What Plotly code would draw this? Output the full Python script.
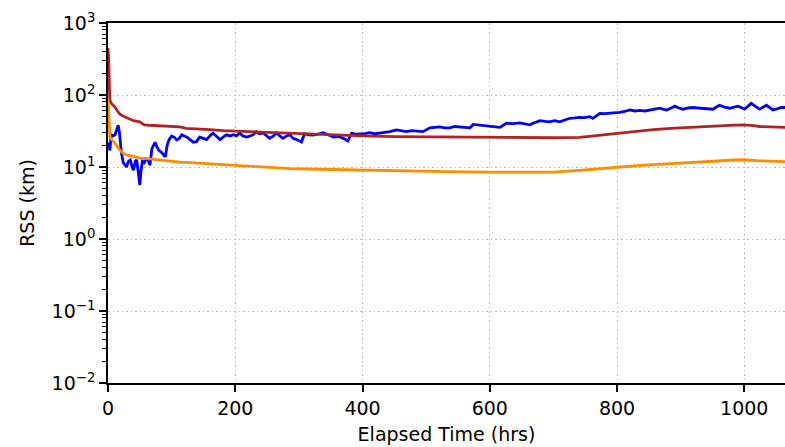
import plotly.graph_objects as go

blue_x = [1, 3, 5, 8, 11, 14, 16, 18, 21, 24, 27, 29, 32, 35, 38, 40, 43, 45, 48, 50, 52, 54, 57, 60, 63, 66, 69, 72, 74, 77, 80, 84, 87, 90, 93, 96, 100, 104, 108, 112, 116, 120, 124, 129, 134, 139, 144, 150, 155, 160, 165, 170, 176, 181, 186, 192, 197, 202, 207, 212, 218, 223, 228, 233, 238, 244, 249, 254, 260, 265, 270, 275, 281, 286, 291, 297, 304, 309, 315, 322, 330, 338, 346, 354, 362, 370, 377, 383, 390, 396, 404, 411, 419, 427, 435, 443, 453, 461, 469, 477, 485, 495, 506, 514, 521, 529, 537, 545, 553, 561, 569, 574, 585, 595, 605, 616, 626, 637, 647, 655, 663, 671, 679, 687, 694, 702, 710, 718, 726, 734, 741, 749, 757, 762, 768, 773, 781, 789, 797, 804, 812, 820, 828, 836, 844, 852, 860, 867, 873, 878, 885, 891, 897, 904, 912, 919, 927, 935, 943, 951, 956, 961, 969, 977, 984, 990, 995, 1000, 1006, 1011, 1017, 1024, 1030, 1035, 1040, 1045, 1051, 1058, 1065]
blue_y = [22, 17, 28, 27, 28, 33, 38, 30, 16, 11.5, 10.5, 10, 12, 12.5, 10, 9, 12, 12.5, 8, 5.6, 9, 12, 11.5, 13, 12.5, 10.6, 18, 20, 22, 19, 17, 16, 15, 13.8, 20, 24, 27, 26, 23.7, 25, 28, 27, 26, 24, 22, 22.5, 26, 25, 24, 27, 29.5, 27, 24, 26, 28, 27, 28, 27, 29.7, 27, 26, 27, 28, 31, 29, 29.7, 27, 25, 27, 29.7, 27, 25, 27, 28, 25, 24, 22.3, 29, 28, 27.8, 28.5, 30, 28, 26, 26.5, 25, 23, 29.5, 28.5, 28.7, 29, 30, 29, 29.6, 30, 31, 32.8, 31.5, 31, 32, 31.6, 31, 35, 35.5, 36, 35, 35, 36.5, 36, 35.5, 35, 39, 38, 37.5, 37, 35.5, 40.5, 40, 41, 40, 38.5, 41.5, 44, 43, 42.5, 44, 42.5, 45, 47.5, 48, 49, 48.5, 50, 47.5, 52, 55.5, 55, 55.5, 56, 57.5, 59, 62, 60, 61, 60, 62, 63, 65.5, 63, 62, 66, 70, 66, 63.5, 66, 67, 66, 65.5, 64, 63.5, 68, 72, 68, 65.5, 68, 70, 67, 63.5, 70, 76.5, 70, 63.5, 68, 72, 67, 62, 64, 67, 67]

brown_x = [0, 1, 2, 3, 5, 8, 11, 15, 18, 22, 26, 29, 35, 40, 50, 57, 65, 82, 100, 113, 123, 129, 145, 160, 181, 200, 234, 270, 286, 320, 350, 400, 450, 532, 600, 663, 700, 741, 770, 800, 830, 857, 885, 909, 935, 961, 985, 1000, 1015, 1024, 1040, 1065]
brown_y = [450, 330, 150, 85, 77, 72, 68, 60, 55, 52, 50, 48, 46, 44, 42.5, 38.5, 38, 37, 36.5, 36, 34.5, 34.3, 34, 33, 32, 31.5, 30.5, 29.5, 29, 28.5, 28, 27, 26.5, 26, 25.8, 25.5, 25.5, 25.8, 27.5, 29.5, 31.5, 33, 34.3, 35.4, 36.4, 37.3, 38.2, 38.5, 37.5, 36.5, 36, 35.4]

orange_x = [0, 1, 2, 3, 6, 11, 15, 19, 24, 29, 40, 50, 65, 82, 100, 113, 129, 145, 181, 234, 270, 286, 330, 400, 460, 532, 600, 663, 700, 741, 770, 800, 830, 857, 885, 909, 935, 961, 985, 1000, 1024, 1065]
orange_y = [88, 60, 30, 26, 24, 21.5, 19, 17, 15.5, 14.7, 14, 13.3, 13, 12.5, 12, 11.7, 11.5, 11.3, 10.9, 10.2, 9.7, 9.5, 9.3, 9, 8.8, 8.6, 8.5, 8.5, 8.5, 9.0, 9.5, 10, 10.4, 10.8, 11.2, 11.6, 11.9, 12.2, 12.5, 12.6, 12.2, 11.9]

x_ticks = [0, 200, 400, 600, 800, 1000]
y_ticks = [1e-2, 1e-1, 1, 10, 100, 1000]
y_ticktext = ["10<sup>−2</sup>", "10<sup>−1</sup>", "10<sup>0</sup>", "10<sup>1</sup>", "10<sup>2</sup>", "10<sup>3</sup>"]
y_minor = [m * 10 ** e for e in range(-2, 3) for m in range(2, 10)]

FONT = "DejaVu Sans"
GRID = dict(showgrid=True, gridcolor="#b8b8b8", griddash="1.5px,3px", gridwidth=1.3)

fig = go.Figure()
fig.add_trace(go.Scatter(x=blue_x, y=blue_y, mode="lines", line=dict(color="#0000ff", width=2.8)))
fig.add_trace(go.Scatter(x=brown_x, y=brown_y, mode="lines", line=dict(color="#b22222", width=2.8)))
fig.add_trace(go.Scatter(x=orange_x, y=orange_y, mode="lines", line=dict(color="#ff8c00", width=2.8)))

fig.update_layout(
    width=785, height=447,
    margin=dict(l=108, r=0, t=23, b=64),
    paper_bgcolor="white", plot_bgcolor="white",
    showlegend=False,
    font=dict(family=FONT, size=19, color="black"),
)
fig.update_xaxes(
    range=[0, 1064], tickvals=x_ticks,
    showline=True, linecolor="black", linewidth=1.6, mirror=True,
    ticks="outside", ticklen=7, tickwidth=1.6, tickcolor="black",
    zeroline=False,
    title=dict(text="Elapsed Time (hrs)", standoff=10, font=dict(size=19)),
    **GRID,
)
fig.update_yaxes(
    type="log", range=[-2, 3], tickvals=y_ticks, ticktext=y_ticktext,
    showline=True, linecolor="black", linewidth=1.6,
    ticks="outside", ticklen=7, tickwidth=1.6, tickcolor="black",
    zeroline=False,
    minor=dict(tickmode="array", tickvals=y_minor, ticks="outside", ticklen=4, tickwidth=1.2, tickcolor="black", showgrid=False),
    title=dict(text="RSS (km)", standoff=12, font=dict(size=19)),
    **GRID,
)

fig.write_html("out.html", config={"displayModeBar": False})
